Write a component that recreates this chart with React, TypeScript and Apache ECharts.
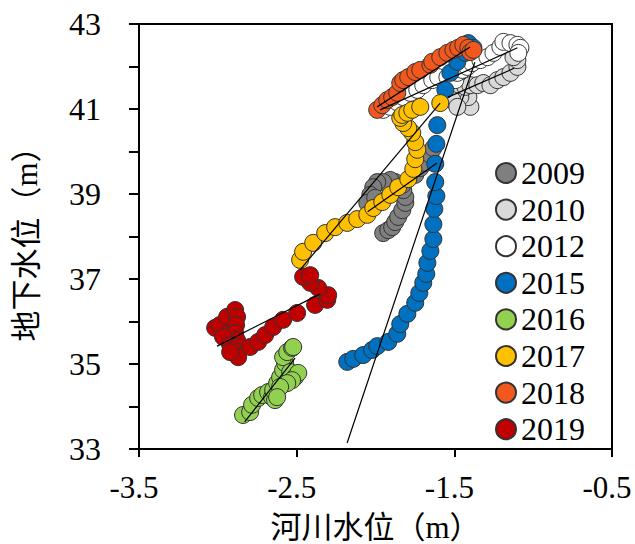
import React, { useEffect, useRef } from "react";
import * as echarts from "echarts";

const years = ["2009", "2010", "2012", "2015", "2016", "2017", "2018", "2019"];
const colors = ["#7f7f7f", "#d9d9d9", "#ffffff", "#0070c0", "#92d050", "#ffc000", "#f2581e", "#c00000"];

const xTicks = [-3.5, -2.5, -1.5, -0.5];
const yTicks = [33, 35, 37, 39, 41, 43];

const s2009 = [
  [-1.951, 38.08], [-1.919, 38.15], [-1.894, 38.22], [-1.875, 38.34], [-1.856, 38.46],
  [-1.83, 38.62], [-1.811, 38.79], [-1.811, 38.93], [-1.824, 39.09], [-1.83, 39.21],
  [-1.875, 39.28], [-1.906, 39.33], [-1.951, 39.28], [-1.989, 39.28], [-2.014, 39.16],
  [-2.033, 38.98], [-2.052, 38.79], [-2.002, 38.91], [-1.748, 39.45], [-1.716, 39.61],
  [-1.684, 39.73], [-1.652, 39.92], [-1.633, 40.08],
];
const s2010 = [
  [-1.398, 41.05], [-1.411, 41.28], [-1.462, 41.28], [-1.506, 41.4], [-1.481, 41.56],
  [-1.43, 41.52], [-1.398, 41.56], [-1.354, 41.56], [-1.316, 41.61], [-1.271, 41.56],
  [-1.227, 41.68], [-1.189, 41.75], [-1.144, 41.85], [-1.1, 41.99], [-1.1, 42.15],
  [-1.125, 42.22], [-1.513, 41.21], [-1.481, 41.05],
];
const s2012 = [
  [-1.951, 40.98], [-1.906, 41.05], [-1.862, 41.16], [-1.824, 41.28], [-1.779, 41.38],
  [-1.735, 41.45], [-1.697, 41.56], [-1.64, 41.68], [-1.602, 41.75], [-1.544, 41.75],
  [-1.494, 41.68], [-1.481, 41.85], [-1.449, 41.92], [-1.417, 41.99], [-1.386, 42.08],
  [-1.335, 42.15], [-1.29, 42.22], [-1.252, 42.32], [-1.208, 42.46], [-1.189, 42.58],
  [-1.144, 42.55], [-1.1, 42.51], [-1.081, 42.44], [-1.094, 42.32],
];
const s2015 = [
  [-2.179, 35.05], [-2.141, 35.12], [-2.078, 35.21], [-2.021, 35.33], [-1.989, 35.42],
  [-1.919, 35.52], [-1.862, 35.71], [-1.843, 35.94], [-1.798, 36.18], [-1.748, 36.44],
  [-1.722, 36.67], [-1.697, 36.91], [-1.678, 37.12], [-1.671, 37.38], [-1.652, 37.66],
  [-1.633, 37.94], [-1.633, 38.29], [-1.627, 38.65], [-1.614, 38.95], [-1.621, 39.28],
  [-1.621, 39.71], [-1.614, 40.18], [-1.608, 40.62], [-1.557, 41.45], [-1.525, 41.85],
  [-1.481, 42.11], [-1.43, 42.32], [-1.411, 42.55], [-1.379, 42.44],
];
const s2016 = [
  [-2.84, 33.8], [-2.795, 33.87], [-2.783, 34.04], [-2.744, 34.2], [-2.719, 34.27],
  [-2.681, 34.34], [-2.656, 34.22], [-2.637, 34.15], [-2.649, 34.39], [-2.624, 34.55],
  [-2.605, 34.69], [-2.586, 34.86], [-2.573, 35.02], [-2.586, 35.16], [-2.56, 35.28],
  [-2.529, 35.38], [-2.522, 35.4], [-2.541, 34.81], [-2.51, 34.69], [-2.49, 34.79],
  [-2.529, 34.62], [-2.56, 34.55], [-2.605, 34.46], [-2.624, 34.22],
];
const s2017 = [
  [-2.478, 37.45], [-2.459, 37.64], [-2.395, 37.85], [-2.319, 38.08], [-2.256, 38.22],
  [-2.179, 38.32], [-2.116, 38.41], [-2.052, 38.51], [-2.014, 38.67], [-1.957, 38.81],
  [-1.906, 38.98], [-1.856, 39.16], [-1.792, 39.35], [-1.76, 39.59], [-1.748, 39.82],
  [-1.735, 40.04], [-1.748, 40.22], [-1.767, 40.44], [-1.792, 40.55], [-1.824, 40.67],
  [-1.843, 40.79], [-1.83, 40.86], [-1.798, 40.91], [-1.767, 40.98], [-1.716, 41.05],
  [-1.589, 41.14],
];
const s2018 = [
  [-1.989, 40.98], [-1.957, 41.09], [-1.925, 41.21], [-1.894, 41.28], [-1.862, 41.38],
  [-1.843, 41.61], [-1.824, 41.68], [-1.792, 41.75], [-1.748, 41.87], [-1.716, 41.92],
  [-1.652, 42.04], [-1.64, 42.11], [-1.589, 42.22], [-1.544, 42.32], [-1.506, 42.39],
  [-1.475, 42.44], [-1.443, 42.51], [-1.411, 42.44], [-1.398, 42.34], [-1.379, 42.39],
];
const s2019 = [
  [-3.017, 35.85], [-2.986, 35.92], [-2.941, 36.11], [-2.89, 36.27], [-2.878, 36.11],
  [-2.884, 35.92], [-2.89, 35.73], [-2.878, 35.56], [-2.967, 35.64], [-2.922, 35.45],
  [-2.878, 35.4], [-2.878, 35.28], [-2.871, 35.16], [-2.922, 35.28], [-2.795, 35.4],
  [-2.744, 35.52], [-2.7, 35.68], [-2.649, 35.87], [-2.586, 36.04], [-2.497, 36.2],
  [-2.383, 36.39], [-2.306, 36.51], [-2.3, 36.62], [-2.363, 36.79], [-2.414, 36.91],
  [-2.459, 37.05], [-2.414, 37.09],
];
const seriesData = [s2009, s2010, s2012, s2015, s2016, s2017, s2018, s2019];

const t2009 = [[-2.05, 38.58], [-1.61, 39.73]];
const t2010 = [[-1.54, 41.28], [-1.12, 41.96]];
const t2012 = [[-1.97, 40.98], [-1.1, 42.44]];
const t2015 = [[-2.18, 33.14], [-1.37, 42.1]];
const t2016 = [[-2.83, 33.64], [-2.51, 35.14]];
const t2017 = [[-2.48, 37.21], [-1.59, 41.14]];
const t2018 = [[-1.99, 41.05], [-1.4, 42.46]];
const t2019 = [[-3.005, 35.42], [-2.35, 36.65]];
const trendData = [t2009, t2010, t2012, t2015, t2016, t2017, t2018, t2019];

const xName = "河川水位（m）";
const yName = "地下水位（m）";

const latin = "Liberation Serif";
const cjk = "Liberation Serif, Noto Sans CJK SC";

export default function App() {
  const ref = useRef<HTMLDivElement>(null);
  useEffect(() => {
    if (!ref.current) return;
    const chart = echarts.init(ref.current, null, { renderer: "svg" });
    const scatter = years.map((y, i) => ({
      name: y,
      type: "scatter",
      data: seriesData[i],
      symbol: "circle",
      symbolSize: 17,
      itemStyle: { color: colors[i], borderColor: "#333", borderWidth: 1, opacity: 1 },
      z: 2 + i,
    }));
    const trends = years.map((y, i) => ({
      name: y + " trend",
      type: "line",
      data: trendData[i],
      symbol: "none",
      silent: true,
      lineStyle: { color: "#000", width: 1.2 },
      z: 20,
    }));
    chart.setOption({
      animation: false,
      backgroundColor: "#fff",
      grid: {
        left: 139,
        right: 23,
        top: 24,
        bottom: 95,
        show: true,
        borderColor: "#000",
        borderWidth: 2,
        containLabel: false,
        outerBoundsMode: "none",
      },
      legend: {
        data: years,
        orient: "vertical",
        left: 490,
        top: 152,
        itemWidth: 20,
        itemHeight: 20,
        itemGap: 4.6,
        textStyle: { fontSize: 32, fontFamily: latin, color: "#000", lineHeight: 32 },
      },
      xAxis: {
        type: "value",
        min: xTicks[0],
        max: xTicks[xTicks.length - 1],
        interval: 1,
        name: xName,
        nameLocation: "middle",
        nameGap: 63,
        nameTextStyle: { fontSize: 31, fontFamily: cjk, color: "#000" },
        axisLine: { show: true, lineStyle: { color: "#000", width: 2 } },
        axisTick: { show: true, inside: false, length: 8, lineStyle: { color: "#000", width: 2 } },
        axisLabel: { fontSize: 31, fontFamily: latin, color: "#000", margin: 23, padding: [0, 10, 0, 0] },
        splitLine: { show: false },
      },
      yAxis: {
        type: "value",
        min: yTicks[0],
        max: yTicks[yTicks.length - 1],
        interval: 1,
        name: yName,
        nameLocation: "middle",
        nameGap: 97,
        nameTextStyle: { fontSize: 31, fontFamily: cjk, color: "#000" },
        axisLine: { show: true, lineStyle: { color: "#000", width: 2 } },
        axisTick: { show: true, inside: false, length: 10, lineStyle: { color: "#000", width: 2 } },
        axisLabel: {
          fontSize: 32,
          fontFamily: latin,
          color: "#000",
          margin: 38,
          formatter: (v: number) => (yTicks.indexOf(Math.round(v)) >= 0 ? String(Math.round(v)) : ""),
        },
        splitLine: { show: false },
      },
      series: [...scatter, ...trends],
    });
    return () => chart.dispose();
  }, []);
  return (
    <div
      ref={ref}
      style={{ position: "fixed", left: 0, top: 0, width: 635, height: 544, background: "#fff" }}
    />
  );
}
